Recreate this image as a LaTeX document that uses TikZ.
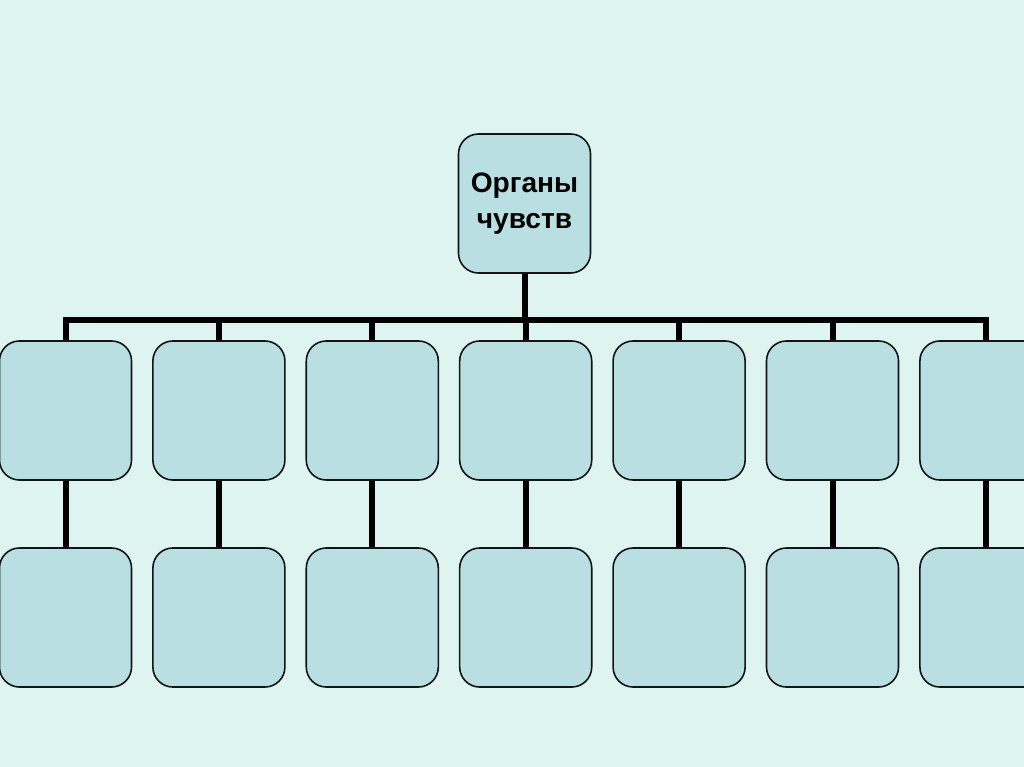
\documentclass[tikz,border=0pt]{standalone}
\usepackage{fontspec}
\setmainfont{Liberation Sans}
\usepackage{xcolor}
\usepackage{tikz}
\definecolor{bgcol}{RGB}{222,244,241}
\definecolor{boxcol}{RGB}{186,223,227}
\definecolor{edgecol}{RGB}{20,20,20}

\begin{document}
\begin{tikzpicture}[x=0.025cm,y=-0.025cm,
box/.style={draw=edgecol,fill=boxcol,line width=0.04cm,rounded corners=0.5cm,
minimum width=3.3cm,minimum height=3.475cm,inner sep=0pt},
conn/.style={line width=0.15cm,black}]
\useasboundingbox (0,0) rectangle (1024,767);
\fill[bgcol](0,0) rectangle (1024,767);
\coordinate (bus) at (0,319.5);
\node[box,align=center,font=\bfseries\fontsize{20}{25.5}\selectfont] (organ) at (524.5,203.5) {Органы\\чувств};
\foreach \i in {1,...,7}{
\node[box] (a\i) at ({65.5+153.4*(\i-1)},410.5) {};
\node[box] (b\i) at ({65.5+153.4*(\i-1)},617.5) {};
}
\draw[conn](organ.south)--(organ.south|-bus);
\draw[conn](a1.north)--(a1.north|-bus)--(a7.north|-bus)--(a7.north);
\foreach \i in {2,...,6}
\draw[conn](a\i.north)--(a\i.north|-bus);
\foreach \i in {1,...,7}
\draw[conn](a\i.south)--(b\i.north);
\end{tikzpicture}
\end{document}
